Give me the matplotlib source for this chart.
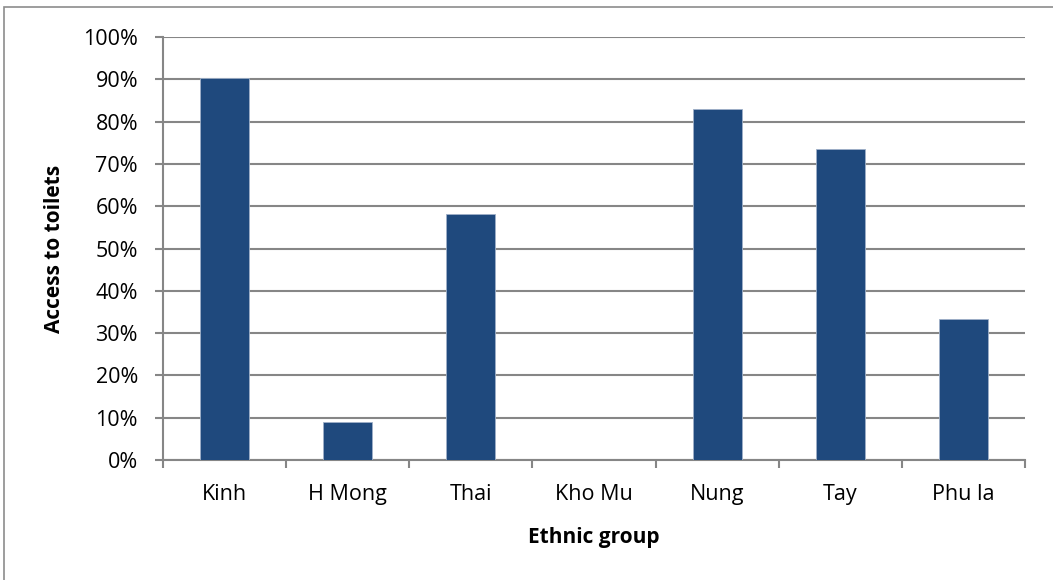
import matplotlib.pyplot as plt
from matplotlib.patches import Rectangle
from matplotlib.ticker import FixedLocator, PercentFormatter

# --- Data ---
groups = ['Kinh', 'H Mong', 'Thai', 'Kho Mu', 'Nung', 'Tay', 'Phu la']
toilet_access = [90.4, 8.9, 58.1, 0.0, 83.0, 73.5, 33.3]
y_ticks = [0, 10, 20, 30, 40, 50, 60, 70, 80, 90, 100]

# --- Style ---
plt.rcParams['font.family'] = ['Open Sans', 'DejaVu Sans']
bar_color = '#1F497D'
line_color = '#868686'

fig = plt.figure(figsize=(10.53, 5.8), dpi=100)
ax = fig.add_axes([0.1548, 0.2069, 0.8186, 0.7293])

# chart frame (left and top edges only show in the frame)
fig.patches.append(Rectangle((4 / 1053, -0.1), 1.2, 1 - 7 / 580 + 0.1,
                             transform=fig.transFigure, fill=False,
                             edgecolor='#8c8c8c', linewidth=1.2))

x = range(len(groups))
ax.bar(x, toilet_access, width=0.4, color=bar_color,
       edgecolor='#9fb0c8', linewidth=0.6, zorder=3)

ax.set_xlim(-0.5, len(groups) - 0.5)
ax.set_ylim(0, 100)
ax.yaxis.set_major_locator(FixedLocator(y_ticks))
ax.yaxis.set_major_formatter(PercentFormatter(decimals=0))
ax.grid(axis='y', color=line_color, linewidth=1.5, zorder=0)

ax.set_xticks(list(x))
ax.set_xticklabels(groups)
ax.set_xticks([i - 0.5 for i in range(len(groups) + 1)], minor=True)
ax.tick_params(axis='x', which='major', length=0, pad=17, labelsize=15.5)
ax.tick_params(axis='x', which='minor', length=6, width=1.5, color=line_color)
ax.tick_params(axis='y', length=6, width=1.5, color=line_color, pad=12,
               labelsize=15.5)

for side in ['top', 'right']:
    ax.spines[side].set_visible(False)
for side in ['left', 'bottom']:
    ax.spines[side].set_color(line_color)
    ax.spines[side].set_linewidth(1.5)

ax.set_xlabel('Ethnic group', fontsize=15, fontweight='bold', labelpad=16)
ax.set_ylabel('Access to toilets', fontsize=15, fontweight='bold', labelpad=13)

fig.savefig('out.png', dpi=100)
